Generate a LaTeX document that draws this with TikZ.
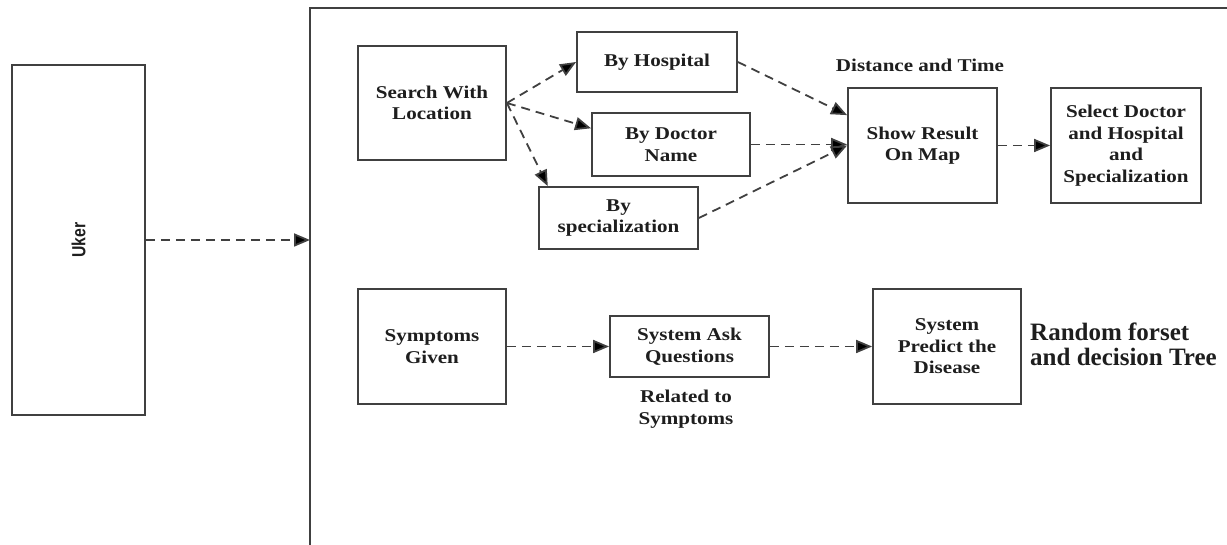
\documentclass[tikz,border=0pt]{standalone}
\usepackage{fontspec}
\setmainfont{Liberation Serif}
\newfontfamily\boxfont[FakeStretch=1.17]{Liberation Serif}
\newfontfamily\userfont[FakeStretch=0.83]{Liberation Sans}
\usetikzlibrary{arrows.meta,calc}
\definecolor{linegray}{HTML}{404040}
\definecolor{txt}{HTML}{1E1E1E}
\tikzset{
  box/.style={draw=linegray, line width=1.8pt, fill=white, inner sep=0pt, align=center,
    text=txt, font=\boxfont\bfseries\fontsize{18pt}{21.5pt}\selectfont},
  lbl/.style={inner sep=0pt, align=center, text=txt,
    font=\boxfont\bfseries\fontsize{18pt}{21.5pt}\selectfont},
  conn/.style={draw=linegray, line width=1.8pt, dash pattern=on 9pt off 6pt,
    -{Triangle[length=16pt,width=13pt,fill=black]}},
}
\begin{document}
\begin{tikzpicture}[x=1pt,y=-1pt]
\useasboundingbox (0,0) rectangle (1227,545);
% frame
\draw[linegray, line width=2pt] (1227,8) -- (310,8) -- (310,545);
\coordinate (frameL) at (310,240);
% user
\node[box, rotate=90, minimum width=350pt, minimum height=133pt,
  font=\userfont\bfseries\fontsize{19pt}{21pt}\selectfont] (user) at (78.5,240) {Uker};
% top row
\node[box, minimum width=148pt, minimum height=114pt] (search) at (432,103) {Search With\\Location};
\node[box, minimum width=160pt, minimum height=60pt] (hosp) at (657,62) {By Hospital};
\node[box, minimum width=158pt, minimum height=63pt] (doc) at (671,144.5) {By Doctor\\Name};
\node[box, minimum width=159pt, minimum height=62pt] (spec) at (618.5,218) {By\\specialization};
\node[box, minimum width=149pt, minimum height=115pt] (show) at (922.5,145.5) {Show Result\\On Map};
\node[box, minimum width=150pt, minimum height=115pt] (select) at (1126,145.5) {Select Doctor\\and Hospital\\and\\Specialization};
\node[lbl] (dist) at (920,65) {Distance and Time};
% bottom row
\node[box, minimum width=148pt, minimum height=115pt] (symp) at (432,346.5) {Symptoms\\Given};
\node[box, minimum width=159pt, minimum height=61pt] (ask) at (689.5,346.5) {System Ask\\Questions};
\node[box, minimum width=148pt, minimum height=115pt] (pred) at (947,346.5) {System\\Predict the\\Disease};
\node[lbl] (rel) at (686,409) {Related to\\Symptoms};
\node[inner sep=0pt, align=left, anchor=west, text=txt,
  font=\bfseries\fontsize{25pt}{25pt}\selectfont] (rf) at (1030,344) {Random forset\\and decision Tree};
% connectors
\draw[conn] (user.south) -- (frameL);
\draw[conn] (search.east) -- (hosp.west);
\draw[conn] (search.east) -- ($(doc.north west)!0.25!(doc.south west)$);
\draw[conn] (search.east) -- ($(spec.north west)!0.06!(spec.north east)$);
\draw[conn] (hosp.east) -- ($(show.north west)!0.24!(show.south west)$);
\draw[conn] (doc.east) -- (doc.east -| show.west);
\draw[conn] (spec.east) -- (show.west);
\draw[conn] (show.east) -- (select.west);
\draw[conn] (symp.east) -- (ask.west);
\draw[conn] (ask.east) -- (pred.west);
\end{tikzpicture}
\end{document}
